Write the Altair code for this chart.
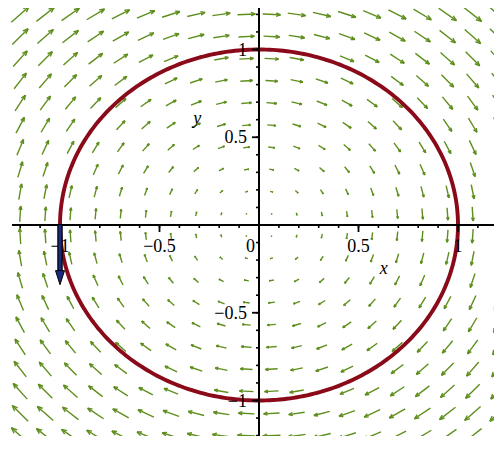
import numpy as np
import pandas as pd
import altair as alt

# ---------------- data ----------------
# field grid (20 x 20 over [-1.2, 1.2])
grid_x = [-1.2, -1.07368, -0.94737, -0.82105, -0.69474, -0.56842, -0.44211, -0.31579,
          -0.18947, -0.06316, 0.06316, 0.18947, 0.31579, 0.44211, 0.56842, 0.69474,
          0.82105, 0.94737, 1.07368, 1.2]
grid_y = list(grid_x)
# vector field F(x, y) = (y, -x)
field_u = lambda x, y: y
field_v = lambda x, y: -x

circle_radius = 1.0

arrow_base = [-1.0, 0.0]
arrow_vec = [0.0, -0.34]

minor_ticks = [-1.2, -1.1, -1.0, -0.9, -0.8, -0.7, -0.6, -0.5, -0.4, -0.3, -0.2, -0.1,
               0.1, 0.2, 0.3, 0.4, 0.5, 0.6, 0.7, 0.8, 0.9, 1.0, 1.1, 1.2]
major_ticks = [-1.0, -0.5, 0.5, 1.0]
x_label_vals = [-1.0, -0.5, 0.5, 1.0]
x_label_text = ["\u22121", "\u22120.5", "0.5", "1"]
y_label_vals = [-1.0, -0.5, 0.5, 1.0]
y_label_text = ["\u22121", "\u22120.5", "0.5", "1"]

# ---------------- layout ----------------
W, H = 486, 428
PX_X, PX_Y = 199.0, 175.5          # pixels per unit
X0, Y0 = 251.0, 217.0              # origin position inside the plot
xmin, xmax = -X0 / PX_X, (W - X0) / PX_X
ymax, ymin = Y0 / PX_Y, -(H - Y0) / PX_Y
xs = alt.Scale(domain=[xmin, xmax], nice=False, zero=False)
ys = alt.Scale(domain=[ymin, ymax], nice=False, zero=False)

GREEN = "#5e8e1c"
RED = "#8a0a1a"
NAVY = "#1b2a80"
FONT = "Liberation Serif"

# ---------------- field arrows ----------------
mags = [np.hypot(field_u(x, y), field_v(x, y)) for x in grid_x for y in grid_y]
spacing = grid_x[1] - grid_x[0]
k = spacing / max(mags)
segs = []
for gx in grid_x:
    for gy in grid_y:
        u, v = field_u(gx, gy) * k, field_v(gx, gy) * k
        xa, ya = gx - u / 2, gy - v / 2
        xb, yb = gx + u / 2, gy + v / 2
        segs.append((xa, ya, xb, yb))
        U, V = u * PX_X, v * PX_Y
        L = np.hypot(U, V)
        if L < 1e-9:
            continue
        ux, uy = U / L, V / L
        h = 0.26 * L
        for a in (np.radians(22), -np.radians(22)):
            bx = -(ux * np.cos(a) - uy * np.sin(a))
            by = -(ux * np.sin(a) + uy * np.cos(a))
            segs.append((xb, yb, xb + bx * h / PX_X, yb + by * h / PX_Y))
arrows_df = pd.DataFrame(segs, columns=["x", "y", "x2", "y2"])

arrows = alt.Chart(arrows_df).mark_rule(color=GREEN, strokeWidth=1.4, clip=True).encode(
    x=alt.X("x:Q", scale=xs, axis=None), y=alt.Y("y:Q", scale=ys, axis=None),
    x2="x2:Q", y2="y2:Q")

# ---------------- circle ----------------
t = np.linspace(0, 2 * np.pi, 361)
circ_df = pd.DataFrame({"x": circle_radius * np.cos(t), "y": circle_radius * np.sin(t),
                        "o": np.arange(len(t))})
circle = alt.Chart(circ_df).mark_line(color=RED, strokeWidth=3.9, clip=True).encode(
    x=alt.X("x:Q", scale=xs, axis=None), y=alt.Y("y:Q", scale=ys, axis=None),
    order="o:Q")

# ---------------- axes ----------------
axis_df = pd.DataFrame({"x": [-1.241, 0.0], "y": [0.0, -1.4], "x2": [1.4, 0.0], "y2": [0.0, 1.257]})
axes = alt.Chart(axis_df).mark_rule(color="black", strokeWidth=2, clip=True).encode(
    x=alt.X("x:Q", scale=xs, axis=None), y=alt.Y("y:Q", scale=ys, axis=None),
    x2="x2:Q", y2="y2:Q")

mt = pd.DataFrame({"v": minor_ticks, "z": 0.0})
Mt = pd.DataFrame({"v": major_ticks, "z": 0.0})
xminor = alt.Chart(mt).mark_rule(color="black", strokeWidth=1.6, y2Offset=3).encode(
    x=alt.X("v:Q", scale=xs, axis=None), y=alt.Y("z:Q", scale=ys, axis=None), y2="z:Q")
xmajor = alt.Chart(Mt).mark_rule(color="black", strokeWidth=1.8, y2Offset=7).encode(
    x=alt.X("v:Q", scale=xs, axis=None), y=alt.Y("z:Q", scale=ys, axis=None), y2="z:Q")
yminor = alt.Chart(mt).mark_rule(color="black", strokeWidth=1.6, x2Offset=-3).encode(
    y=alt.Y("v:Q", scale=ys, axis=None), x=alt.X("z:Q", scale=xs, axis=None), x2="z:Q")
ymajor = alt.Chart(Mt).mark_rule(color="black", strokeWidth=1.8, x2Offset=-7).encode(
    y=alt.Y("v:Q", scale=ys, axis=None), x=alt.X("z:Q", scale=xs, axis=None), x2="z:Q")

xl = pd.DataFrame({"v": x_label_vals, "t": x_label_text, "z": 0.0})
yl = pd.DataFrame({"v": y_label_vals, "t": y_label_text, "z": 0.0})
xlabels = alt.Chart(xl).mark_text(font=FONT, fontSize=18, dy=27, baseline="alphabetic",
                                  align="center", color="black").encode(
    x=alt.X("v:Q", scale=xs, axis=None), y=alt.Y("z:Q", scale=ys, axis=None), text="t:N")
ylabels = alt.Chart(yl).mark_text(font=FONT, fontSize=18, dx=-12, dy=1, baseline="middle",
                                  align="right", color="black").encode(
    y=alt.Y("v:Q", scale=ys, axis=None), x=alt.X("z:Q", scale=xs, axis=None), text="t:N")
zero_df = pd.DataFrame({"x": [0.0], "y": [0.0], "t": ["0"]})
zlabel = alt.Chart(zero_df).mark_text(font=FONT, fontSize=18, dx=-4, dy=27, baseline="alphabetic",
                                      align="right", color="black").encode(
    x=alt.X("x:Q", scale=xs, axis=None), y=alt.Y("y:Q", scale=ys, axis=None), text="t:N")
names_df = pd.DataFrame({"x": [0.627, -0.31], "y": [-0.248, 0.605], "t": ["x", "y"]})
names = alt.Chart(names_df).mark_text(font=FONT, fontSize=18, fontStyle="italic",
                                      baseline="middle", align="center", color="black").encode(
    x=alt.X("x:Q", scale=xs, axis=None), y=alt.Y("y:Q", scale=ys, axis=None), text="t:N")

# ---------------- blue arrow ----------------
head_len = 14.0 / PX_Y
tip = [arrow_base[0] + arrow_vec[0], arrow_base[1] + arrow_vec[1]]
shaft_df = pd.DataFrame({"x": [arrow_base[0]], "y": [arrow_base[1]],
                         "x2": [tip[0]], "y2": [tip[1] + head_len * 0.9]})
shaft_out = alt.Chart(shaft_df).mark_rule(color="black", strokeWidth=5.5).encode(
    x=alt.X("x:Q", scale=xs, axis=None), y=alt.Y("y:Q", scale=ys, axis=None),
    x2="x2:Q", y2="y2:Q")
shaft_in = alt.Chart(shaft_df).mark_rule(color=NAVY, strokeWidth=3).encode(
    x=alt.X("x:Q", scale=xs, axis=None), y=alt.Y("y:Q", scale=ys, axis=None),
    x2="x2:Q", y2="y2:Q")
head_df = pd.DataFrame({"x": [tip[0]], "y": [tip[1] + head_len / 2]})
head = alt.Chart(head_df).mark_point(
    shape="M-0.64,-1L0.64,-1L0,1Z", size=196, filled=True, fill=NAVY, fillOpacity=1,
    stroke="black", strokeWidth=1, opacity=1).encode(
    x=alt.X("x:Q", scale=xs, axis=None), y=alt.Y("y:Q", scale=ys, axis=None))

chart = alt.layer(arrows, circle, axes, xminor, xmajor, yminor, ymajor,
                  xlabels, ylabels, zlabel, names, shaft_out, shaft_in, head).properties(
    width=W, height=H, autosize=alt.AutoSizeParams(type="none"), padding=0,
    background="white"
).configure_view(stroke=None)

chart.save("out.html", embed_options={"renderer": "svg", "actions": False})
